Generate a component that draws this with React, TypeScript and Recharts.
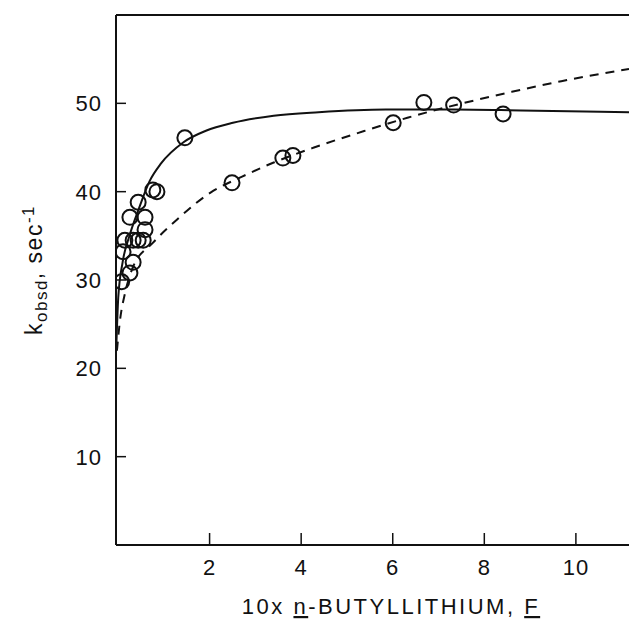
import React from 'react'
import { ComposedChart, Line, Scatter, XAxis, YAxis, ReferenceLine, Label } from 'recharts'

// measured points, solid-curve group (low concentration)
const solidPointsX = [1.46, 0.85, 0.76, 0.44, 0.26, 0.59, 0.59, 0.15, 0.33, 0.44, 0.55, 0.11, 0.33, 0.26, 0.08]
const solidPointsY = [46.1, 40.0, 40.2, 38.8, 37.1, 37.1, 35.7, 34.5, 34.5, 34.5, 34.5, 33.2, 32.0, 30.8, 29.8]

// measured points, dashed-curve group
const dashedPointsX = [2.49, 3.6, 3.82, 6.01, 6.68, 7.33, 8.41]
const dashedPointsY = [41.0, 43.8, 44.1, 47.8, 50.1, 49.8, 48.8]

// curves
const solidCurveX = [-0.04, 0.005, 0.1, 0.25, 0.45, 0.69, 0.94, 1.43, 1.92, 2.51, 3.4, 4.38, 5.85, 7.33, 8.8, 11.16]
const solidCurveY = [22, 28, 32, 35, 38, 41.2, 43.2, 45.6, 46.9, 47.8, 48.6, 49.0, 49.3, 49.3, 49.2, 49.0]

const dashedCurveX = [-0.024, 0.045, 0.153, 0.33, 0.76, 1.28, 2.02, 2.71, 3.4, 4.28, 5.46, 6.34, 7.52, 8.6, 9.68, 11.16]
const dashedCurveY = [22, 25.5, 28.5, 31.5, 34.2, 36.8, 39.9, 41.7, 43.3, 45.0, 47.0, 48.4, 50.0, 51.3, 52.5, 53.9]

const xTicks = [2, 4, 6, 8, 10]
const yTicks = [10, 20, 30, 40, 50]

const zip = (xs: number[], ys: number[]) => xs.map((x, i) => ({ x, y: ys[i] }))

const solidPoints = zip(solidPointsX, solidPointsY)
const dashedPoints = zip(dashedPointsX, dashedPointsY)
const solidCurve = zip(solidCurveX, solidCurveY)
const dashedCurve = zip(dashedCurveX, dashedCurveY)

const font = '"Liberation Sans", Arial, sans-serif'
const ink = '#111'

const YTick = ({ x, y, payload }: any) => (
  <g>
    <line x1={x} y1={y} x2={x + 10} y2={y} stroke={ink} strokeWidth={1.5} />
    <text x={x - 14} y={y + 8} textAnchor="end" fontSize={22} letterSpacing={1} fontFamily={font} fill={ink}>
      {payload.value}
    </text>
  </g>
)

const XTick = ({ x, y, payload }: any) => (
  <g>
    <line x1={x} y1={y} x2={x} y2={y - 12} stroke={ink} strokeWidth={1.5} />
    <text x={x} y={y + 30} textAnchor="middle" fontSize={22} letterSpacing={1} fontFamily={font} fill={ink}>
      {payload.value}
    </text>
  </g>
)

const Ring = ({ cx, cy }: any) => (
  <circle cx={cx} cy={cy} r={7.5} fill="none" stroke={ink} strokeWidth={2} />
)

const XTitle = () => (
  <text x={391} y={614} textAnchor="middle" fontSize={22} letterSpacing={2.5} fontFamily={font} fill={ink}>
    10x <tspan textDecoration="underline">n</tspan>-BUTYLLITHIUM,{'  '}
    <tspan textDecoration="underline">F</tspan>
  </text>
)

const YTitle = () => (
  <text
    transform="translate(42, 270) rotate(-90)"
    textAnchor="middle"
    fontSize={23}
    letterSpacing={1.5}
    fontFamily={font}
    fill={ink}
  >
    k<tspan fontSize={17} dy={5}>obsd</tspan>
    <tspan dy={-5}>,  sec</tspan>
    <tspan fontSize={17} dy={-8}>-1</tspan>
  </text>
)

export default function App() {
  return (
    <div style={{ width: 629, height: 627, background: '#fff' }}>
      <style>{`body{margin:0}`}</style>
      <ComposedChart width={629} height={627} margin={{ top: 15, right: 0, left: 0, bottom: 0 }}>
        <XAxis
          type="number"
          dataKey="x"
          domain={[-0.044, 11.16]}
          ticks={xTicks}
          height={82}
          axisLine={{ stroke: ink, strokeWidth: 2 }}
          tickLine={false}
          tickSize={0}
          tickMargin={0}
          tick={<XTick />}
          allowDataOverflow
        >
          <Label content={<XTitle />} />
        </XAxis>
        <YAxis
          type="number"
          dataKey="y"
          domain={[0, 60]}
          ticks={yTicks}
          width={116}
          axisLine={{ stroke: ink, strokeWidth: 2 }}
          tickLine={false}
          tickSize={0}
          tickMargin={0}
          tick={<YTick />}
          allowDataOverflow
        >
          <Label content={<YTitle />} />
        </YAxis>
        <ReferenceLine y={60} stroke={ink} strokeWidth={2} ifOverflow="extendDomain" />
        <Line
          data={solidCurve}
          dataKey="y"
          type="monotone"
          stroke={ink}
          strokeWidth={2}
          dot={false}
          isAnimationActive={false}
        />
        <Line
          data={dashedCurve}
          dataKey="y"
          type="monotone"
          stroke={ink}
          strokeWidth={2}
          strokeDasharray="9 7"
          dot={false}
          isAnimationActive={false}
        />
        <Scatter data={solidPoints} dataKey="y" shape={<Ring />} isAnimationActive={false} />
        <Scatter data={dashedPoints} dataKey="y" shape={<Ring />} isAnimationActive={false} />
      </ComposedChart>
    </div>
  )
}
